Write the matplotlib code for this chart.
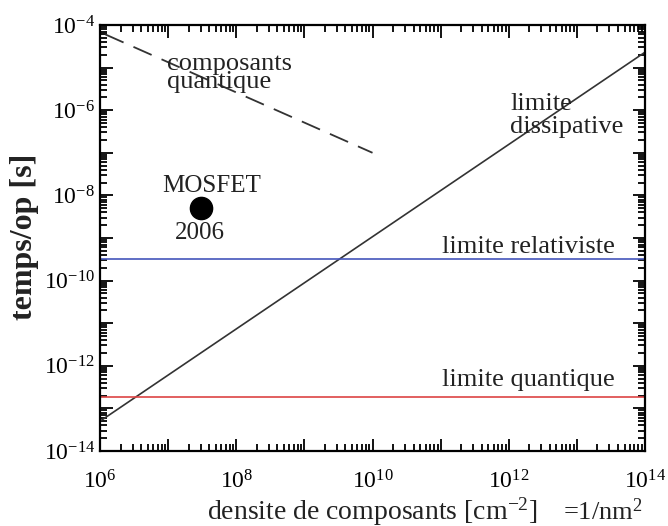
import matplotlib
matplotlib.use('Agg')
import matplotlib.pyplot as plt
from matplotlib.ticker import LogLocator, FixedLocator, LogFormatterMathtext, NullFormatter

plt.rcParams['font.family'] = ['Liberation Serif', 'DejaVu Serif']
plt.rcParams['mathtext.fontset'] = 'custom'
plt.rcParams['mathtext.rm'] = 'Liberation Serif'
plt.rcParams['mathtext.it'] = 'Liberation Serif:italic'
plt.rcParams['axes.unicode_minus'] = False

# limite dissipative (ligne pleine)
diss_x = [1e6, 1e14]
diss_y = [5e-14, 2.3e-5]

# composants quantiques (tirets)
quant_comp_x = [1.2e6, 1e10]
quant_comp_y = [6e-5, 1e-7]

# limites horizontales
relat_y = 3.3e-10
quant_y = 1.9e-13

# point MOSFET 2006
mosfet_x = [3e7]
mosfet_y = [5e-9]

x_major = [10.0 ** k for k in range(6, 15)]
x_labels = [10.0 ** k for k in range(6, 15, 2)]
y_major = [10.0 ** k for k in range(-14, -3)]
y_labels = [10.0 ** k for k in range(-14, -3, 2)]

fig = plt.figure(figsize=(6.68, 5.26), dpi=100)
ax = fig.add_axes([0.1497, 0.1426, 0.8159, 0.8099])

ax.plot(diss_x, diss_y, color='#333333', lw=1.2)
ax.plot(quant_comp_x, quant_comp_y, color='#333333', lw=1.3, dashes=(11, 6))
ax.axhline(relat_y, color='#4455bb', lw=1.2)
ax.axhline(quant_y, color='#dd4444', lw=1.2)
ax.plot(mosfet_x, mosfet_y, 'o', color='black', ms=16)

ax.set_xscale('log')
ax.set_yscale('log')
ax.set_xlim(1e6, 1e14)
ax.set_ylim(1e-14, 1e-4)

ax.xaxis.set_major_locator(FixedLocator(x_major))
ax.yaxis.set_major_locator(FixedLocator(y_major))
ax.xaxis.set_minor_locator(LogLocator(base=10, subs=range(2, 10), numticks=20))
ax.yaxis.set_minor_locator(LogLocator(base=10, subs=range(2, 10), numticks=20))
fmt = LogFormatterMathtext()
ax.xaxis.set_major_formatter(lambda v, p: fmt(v) if any(abs(v / l - 1) < 1e-6 for l in x_labels) else '')
ax.yaxis.set_major_formatter(lambda v, p: fmt(v) if any(abs(v / l - 1) < 1e-6 for l in y_labels) else '')
ax.xaxis.set_minor_formatter(NullFormatter())
ax.yaxis.set_minor_formatter(NullFormatter())

ax.tick_params(which='both', direction='in', top=True, right=True, width=1.3, labelsize=17)
ax.tick_params(which='major', length=9)
ax.tick_params(which='minor', length=5)
ax.tick_params(axis='x', pad=14)
for s in ax.spines.values():
    s.set_linewidth(1.6)

tc = '#222222'
ax.text(9.6e6, 7.4e-6, 'composants\nquantique', fontsize=19, color=tc, va='center', ha='left', linespacing=0.8)
ax.text(1.05e12, 7.5e-7, 'limite\ndissipative', fontsize=19, color=tc, va='center', ha='left', linespacing=1.1)
ax.text(1.05e11, 6.2e-10, 'limite relativiste', fontsize=19, color=tc, va='center', ha='left')
ax.text(1.05e11, 4.7e-13, 'limite quantique', fontsize=19, color=tc, va='center', ha='left')
ax.text(4.4e7, 1.7e-8, 'MOSFET', fontsize=18, color=tc, va='center', ha='center')
ax.text(2.95e7, 1.3e-9, '2006', fontsize=18, color=tc, va='center', ha='center')

ax.set_ylabel('temps/op [s]', fontsize=23, fontweight='bold', color=tc)
ax.yaxis.set_label_coords(-0.112, 0.502)
fig.text(0.557, 0.028, r'densite de composants [cm$^{-2}$]', fontsize=20, color=tc, ha='center', va='center')
fig.text(0.843, 0.028, r'=1/nm$^2$', fontsize=19, color=tc, ha='left', va='center')

fig.savefig('out.png', dpi=100)
